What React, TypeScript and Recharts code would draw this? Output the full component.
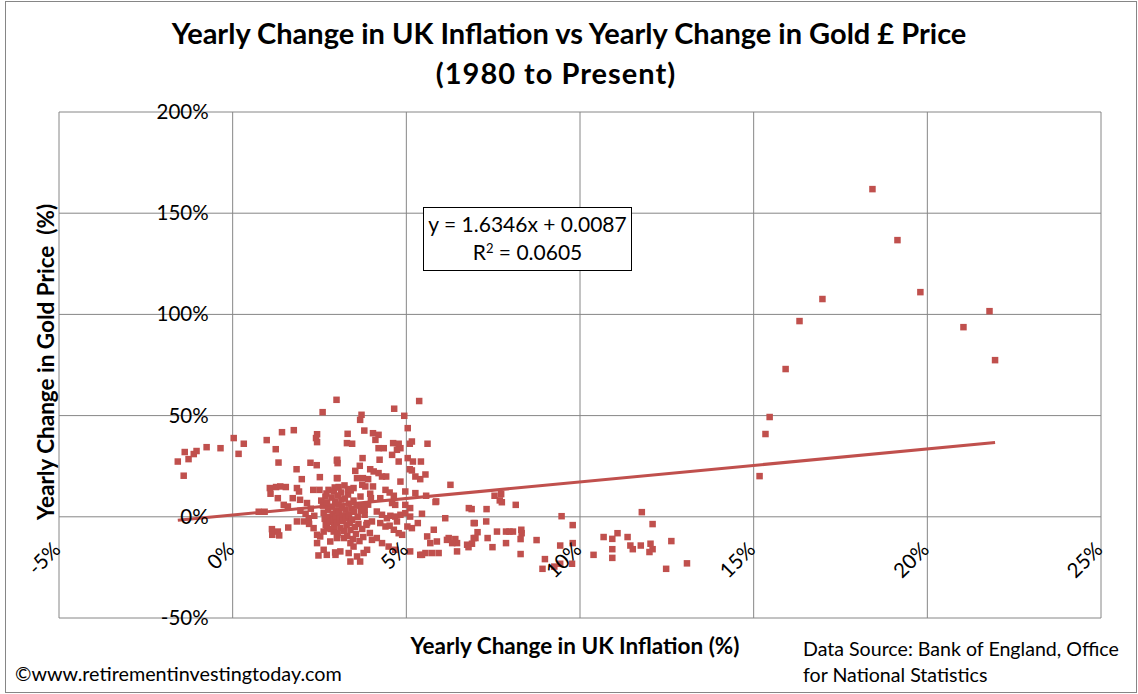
import { ScatterChart, Scatter, XAxis, YAxis, CartesianGrid, ReferenceLine } from 'recharts'

// yearly change in UK inflation (%) vs yearly change in gold £ price (%)
const negativeRpi: [number, number][] = [
  [-1.58, 27.3], [-1.41, 20.3], [-1.38, 32.0], [-1.27, 28.5], [-1.12, 31.0], [-1.04, 32.5],
  [-0.75, 34.4], [-0.35, 33.9], [0.03, 38.9], [0.17, 31.1], [0.32, 36.1],
]

const lowInflation: [number, number][] = [
  [0.75, 2.5], [0.92, 2.5], [0.98, 37.9], [1.24, 33.4], [1.42, 41.8], [1.76, 42.8], [1.32, 26.8],
  [1.84, 23.5], [1.99, 18.6], [2.24, 26.7], [2.42, 25.5], [2.43, 40.8], [2.4, 38.9], [2.43, 36.9],
  [2.59, 51.7], [2.99, 57.8], [3.0, 27.8], [3.0, 19.1], [2.51, 19.6],
  [1.07, 14.2], [1.09, 11.4], [1.25, 14.7], [1.37, 15.0], [1.53, 14.7], [1.3, 9.2], [1.47, 5.9],
  [1.59, 5.1], [1.73, 9.2], [1.85, 14.2], [1.91, 12.5], [1.94, 8.4], [2.14, 6.8], [2.32, 13.3],
  [2.5, 13.3], [2.76, 13.3], [2.91, 12.5], [2.67, 10.0],
  [1.13, -6.1], [1.14, -8.9], [1.3, -7.3], [1.34, -9.2], [1.6, -5.3], [2.43, -13.0], [2.62, -16.3],
  [2.47, -19.1], [2.71, -18.8], [2.95, -17.6], [2.81, -12.2],
  [1.85, -2.3], [2.05, -2.3], [2.19, -0.7], [2.33, -5.6], [2.52, -9.7], [2.71, -5.6], [2.91, -7.3],
  [3.0, -10.5], [2.62, -7.3], [2.43, -8.9], [1.95, 3.0], [2.1, 1.5], [2.25, 4.0], [2.35, 0.5], [2.2, -3.5],
]

const coreCluster: [number, number][] = [
  [2.55, 8.0], [2.6, 5.5], [2.62, 2.0], [2.65, -1.0], [2.68, -4.0], [2.7, 11.5], [2.72, 7.0],
  [2.75, 3.5], [2.78, 0.0], [2.8, -2.5], [2.82, -6.0], [2.85, 9.5], [2.87, 5.0], [2.88, 1.5],
  [2.9, -1.5], [2.92, -4.5], [2.94, 14.5], [2.95, 7.5], [2.97, 3.0], [2.98, -0.5], [3.0, -3.0],
  [3.02, -8.0], [3.03, 10.5], [3.05, 6.0], [3.06, 2.0], [3.08, -1.0], [3.1, -5.5], [3.12, 12.0],
  [3.13, 8.5], [3.15, 4.5], [3.17, 0.5], [3.18, -2.0], [3.2, -7.0], [3.22, 15.5], [3.23, 9.0],
  [3.25, 3.5], [3.27, -0.5], [3.28, -4.0], [3.3, -9.5], [3.32, 11.0], [3.34, 6.5], [3.35, 1.0],
  [3.37, -3.0], [3.39, -6.5], [3.4, 13.0], [3.42, 4.0], [3.44, -1.5], [3.46, -11.0], [3.48, 8.0],
  [3.5, 2.5], [3.52, -5.0], [3.55, -8.5], [3.57, 5.5], [3.6, 0.0], [3.62, -3.5], [3.65, -12.0],
  [3.68, 10.0], [3.7, 3.0], [3.73, -6.0], [3.76, -10.0], [3.8, 1.0], [3.85, -4.0], [3.9, 6.0], [3.95, -8.0],
]

const midInflation: [number, number][] = [
  [4.65, 53.4], [5.37, 57.2], [3.71, 50.4], [3.67, 47.9], [4.94, 49.9], [5.04, 43.8], [3.31, 41.0],
  [3.79, 42.6], [4.04, 41.3], [4.2, 40.5], [4.11, 38.0], [3.29, 36.4], [3.44, 36.1], [4.2, 33.9],
  [4.35, 33.9], [4.62, 36.4], [4.78, 36.1], [4.83, 33.9], [4.73, 33.1], [5.16, 37.2], [5.1, 36.1],
  [5.61, 36.1], [4.59, 30.6], [3.01, 28.2], [3.02, 26.5], [3.74, 29.0], [4.23, 28.2], [4.78, 27.3],
  [5.04, 29.0], [5.19, 27.3], [5.42, 27.3], [3.53, 22.7], [3.66, 25.2], [3.96, 23.5], [4.06, 22.4],
  [4.2, 21.6], [3.02, 19.1], [3.58, 19.1], [3.75, 19.1], [3.9, 18.6], [4.3, 19.9], [4.42, 19.9],
  [5.1, 23.5], [5.16, 22.9], [5.26, 19.9], [5.4, 18.6], [5.55, 20.9], [4.83, 17.4], [3.32, 13.7],
  [3.48, 14.2], [3.05, 14.7], [3.73, 15.8], [3.82, 15.0], [4.04, 15.0], [4.4, 13.3], [4.52, 12.0],
  [4.64, 10.4], [4.97, 12.5], [5.26, 11.7], [5.57, 10.4], [5.86, 7.6], [6.27, 15.8], [3.96, 11.4],
  [3.98, 9.2], [4.25, 9.2], [4.59, 6.8], [4.68, 5.9], [4.97, 5.9], [5.11, 4.3], [4.83, 1.0],
  [4.97, 1.8], [5.11, 0.1], [5.45, 1.5], [6.12, -0.7], [6.8, 4.3], [3.73, 5.1], [3.8, 3.5],
  [4.15, 2.6], [4.3, 1.0], [4.44, -0.7], [4.54, 0.5], [4.68, 0.1], [4.73, -2.3], [3.87, -3.1],
  [4.01, -2.3], [4.25, -3.1], [4.4, -4.8], [4.52, -4.4], [4.64, -6.4], [4.78, -8.1], [4.88, -8.9],
  [5.03, -4.8], [5.16, -5.6], [5.33, -3.1], [5.6, -9.7], [5.88, -12.2], [5.69, -13.0], [6.22, -10.5],
  [6.46, -13.0], [6.41, -11.0], [5.79, -6.4], [4.15, -10.5], [4.3, -13.0], [4.01, -11.4], [4.49, -14.7],
  [4.68, -16.3], [5.11, -17.1], [5.4, -18.8], [5.55, -17.9], [6.46, -17.1], [6.75, -13.8], [3.01, -8.9],
  [3.2, -10.5], [3.39, -13.0], [3.48, -14.7], [3.1, -17.1], [3.34, -17.9], [3.58, -19.6], [3.77, -17.9],
  [3.87, -16.3], [2.96, -18.8], [3.39, -22.1], [3.67, -22.1],
  [5.84, 7.3], [6.17, -11.4], [6.32, -13.0], [5.93, -17.9], [5.45, -18.8], [5.74, -17.9], [6.94, -3.1], [6.94, -10.5],
]

const highInflation: [number, number][] = [
  [6.88, 3.8], [7.31, 3.8], [7.54, 10.4], [7.73, 11.2], [7.69, 8.1], [7.75, 7.2], [8.15, 5.9],
  [6.97, -3.1], [7.3, -2.3], [7.05, -7.6], [6.99, -10.5], [6.89, -13.3], [6.79, -15.0], [7.34, -10.5],
  [7.48, -15.0], [7.61, -7.3], [7.87, -7.3], [7.97, -7.3], [8.07, -7.3], [8.31, -6.4], [8.32, -8.1],
  [7.87, -13.0], [8.29, -11.0], [8.29, -18.4], [8.75, -11.5], [8.99, -20.9], [8.92, -25.7], [9.26, -24.6],
  [9.43, -23.2], [9.47, 0.3], [9.43, -14.2], [9.79, -13.0], [9.77, -23.2], [9.79, -4.1], [10.39, -18.8],
  [10.68, -10.0], [10.93, -10.9], [11.08, -8.1], [10.93, -16.0], [10.93, -20.3], [11.37, -10.0],
  [11.45, -14.2], [11.52, -16.0], [11.75, -14.2], [11.78, 2.3], [12.03, -13.3], [12.09, -16.0],
  [12.0, -17.4], [12.09, -3.6], [12.63, -12.0], [12.48, -25.7], [13.08, -23.0],
]

const early1980s: [number, number][] = [
  [18.42, 161.9], [19.14, 136.7], [19.8, 111.0], [16.98, 107.6], [16.32, 96.7], [15.92, 73.0],
  [15.46, 49.3], [15.34, 40.9], [15.17, 20.1], [21.79, 101.6], [21.04, 93.7], [21.95, 77.4],
]

const xTicks = [-5, 0, 5, 10, 15, 20, 25]
const yTicks = [-50, 0, 50, 100, 150, 200]

// excel linear trendline, in fractions
const slope = 1.6346
const intercept = 0.0087

const W = 1138
const H = 694
const M = { top: 112, right: 37, bottom: 75, left: 58 }
const AXIS = 1
const RED = '#C0504D'
const GRID = '#868686'
const FONT = 'Lato, "Open Sans", sans-serif'

const points = [...negativeRpi, ...lowInflation, ...coreCluster, ...midInflation, ...highInflation, ...early1980s]
  .map(([x, y]) => ({ x, y }))

const xs = points.map((p) => p.x)
const minX = Math.min(...xs)
const maxX = Math.max(...xs)
const trend = (x: number) => (slope * (x / 100) + intercept) * 100

// where the axes cross (0, 0) - labels sit there like in Excel
const plotW = W - M.left - M.right - AXIS
const plotH = H - M.top - M.bottom - AXIS
const zeroX = M.left + AXIS + ((0 - xTicks[0]) / (xTicks[xTicks.length - 1] - xTicks[0])) * plotW
const zeroY = M.top + ((yTicks[yTicks.length - 1] - 0) / (yTicks[yTicks.length - 1] - yTicks[0])) * plotH

const renderYTick = (props: any) => (
  <text key={props.index} x={zeroX - 24} y={props.y} dy={7} textAnchor="end" fontSize={20.5} fontFamily={FONT} fill="#000">
    {props.payload.value}%
  </text>
)

const renderXTick = (props: any) => {
  const tx = props.x + 3
  const ty = zeroY + 34
  return (
    <text key={props.index} x={tx} y={ty} textAnchor="end" fontSize={20.5} fontFamily={FONT} fill="#000" transform={`rotate(-45 ${tx} ${ty})`}>
      {props.payload.value}%
    </text>
  )
}

const renderSquare = (props: any) => (
  <rect x={props.cx - 3.25} y={props.cy - 3.25} width={6.5} height={6.5} fill={RED} />
)

const abs = (style: React.CSSProperties): React.CSSProperties => ({ position: 'absolute', fontFamily: FONT, color: '#000', whiteSpace: 'nowrap', ...style })

export default function App() {
  return (
    <div style={{ position: 'absolute', left: 0, top: 0, width: W, height: H, background: '#fff' }}>
      <div style={{ position: 'absolute', left: 5, top: 1, width: 1130, height: 690, border: '1px solid #868686' }} />
      <ScatterChart width={W} height={H} margin={M}>
        <CartesianGrid stroke={GRID} strokeWidth={1} />
        <XAxis
          type="number"
          dataKey="x"
          domain={[xTicks[0], xTicks[xTicks.length - 1]]}
          ticks={xTicks}
          axisLine={false}
          tickLine={false}
          height={AXIS}
          tick={renderXTick}
          interval={0}
        />
        <YAxis
          type="number"
          dataKey="y"
          domain={[yTicks[0], yTicks[yTicks.length - 1]]}
          ticks={yTicks}
          axisLine={false}
          tickLine={false}
          width={AXIS}
          tick={renderYTick}
          interval={0}
        />
        <Scatter data={points} shape={renderSquare} isAnimationActive={false} />
        <ReferenceLine
          segment={[{ x: minX, y: trend(minX) }, { x: maxX, y: trend(maxX) }]}
          stroke={RED}
          strokeWidth={3}
        />
      </ScatterChart>

      <div style={abs({ left: 569, top: 32, transform: 'translate(-50%, -50%)', fontSize: 29, fontWeight: 700 })}>
        Yearly Change in UK Inflation vs Yearly Change in Gold £ Price
      </div>
      <div style={abs({ left: 556, top: 72, transform: 'translate(-50%, -50%)', fontSize: 29, fontWeight: 700, letterSpacing: 1 })}>
        (1980 to Present)
      </div>

      <div
        style={abs({
          left: 423, top: 207, width: 207, height: 60, border: '1px solid #000', background: '#fff',
          fontSize: 21, textAlign: 'center', lineHeight: '28px', paddingTop: 2, boxSizing: 'content-box',
        })}
      >
        <div>y = {slope}x + {intercept}</div>
        <div>R<sup style={{ fontSize: 13, verticalAlign: 'top', lineHeight: '20px' }}>2</sup> = 0.0605</div>
      </div>

      <div
        style={abs({
          left: 45, top: 362, transform: 'translate(-50%, -50%) rotate(-90deg)', fontSize: 22.5, fontWeight: 700,
        })}
      >
        Yearly Change in Gold Price&nbsp;&nbsp;(%)
      </div>
      <div style={abs({ left: 575, top: 645, transform: 'translate(-50%, -50%)', fontSize: 22.5, fontWeight: 700 })}>
        Yearly Change in UK Inflation (%)
      </div>
      <div style={abs({ left: 803, top: 636, fontSize: 19.6, lineHeight: '26px' })}>
        Data Source: Bank of England, Office
        <br />
        for National Statistics
      </div>
      <div style={abs({ left: 15, top: 661, fontSize: 19.8 })}>©www.retirementinvestingtoday.com</div>
    </div>
  )
}
